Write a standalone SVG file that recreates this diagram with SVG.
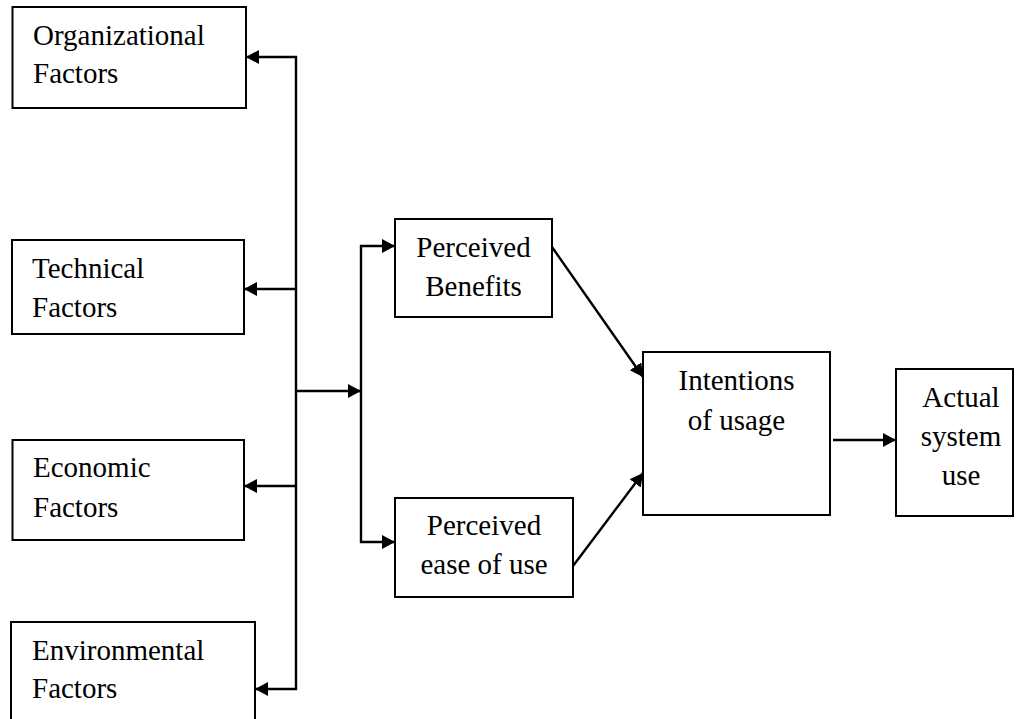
<svg xmlns="http://www.w3.org/2000/svg" width="1016" height="719" viewBox="0 0 1016 719">
<style>
.box{fill:#fff;stroke:#000;stroke-width:2}
.c{text-anchor:middle}
.ln{fill:none;stroke:#000;stroke-width:2.4}
</style>
<defs>
<marker id="ah" markerUnits="userSpaceOnUse" markerWidth="16" markerHeight="16" refX="13" refY="7" orient="auto">
<path d="M0,0 L13,7 L0,14 Z" fill="#000"/>
</marker>
</defs>
<rect width="1016" height="719" fill="#fff"/>
<g font-family="Liberation Serif, serif" font-size="29" fill="#000">
<g id="n-org"><rect class="box" x="12.5" y="7" width="233.5" height="101"/><text x="33" y="45">Organizational</text><text x="33" y="83">Factors</text></g>
<g id="n-tech"><rect class="box" x="12" y="240" width="232" height="94"/><text x="32" y="278">Technical</text><text x="32" y="317">Factors</text></g>
<g id="n-econ"><rect class="box" x="12.5" y="440" width="231.5" height="100"/><text x="33" y="477">Economic</text><text x="33" y="517">Factors</text></g>
<g id="n-env"><rect class="box" x="11" y="622" width="244" height="120"/><text x="32" y="660">Environmental</text><text x="32" y="698">Factors</text></g>
<g id="n-pb"><rect class="box" x="395" y="219" width="157" height="98"/><text class="c" x="473.5" y="257">Perceived</text><text class="c" x="473.5" y="296">Benefits</text></g>
<g id="n-pe"><rect class="box" x="395" y="498" width="178" height="99"/><text class="c" x="484" y="535">Perceived</text><text class="c" x="484" y="574">ease of use</text></g>
<g id="n-int"><rect class="box" x="643" y="352" width="187" height="163"/><text class="c" x="736.5" y="390">Intentions</text><text class="c" x="736.5" y="430">of usage</text></g>
<g id="n-act"><rect class="box" x="896" y="369" width="117" height="147"/><text class="c" x="961" y="407">Actual</text><text class="c" x="961" y="446">system</text><text class="c" x="961" y="485">use</text></g>
</g>
<g id="connectors">
<path class="ln" d="M296,56 V690"/>
<path class="ln" d="M297,57 H246" marker-end="url(#ah)"/>
<path class="ln" d="M297,289 H244" marker-end="url(#ah)"/>
<path class="ln" d="M297,486 H244" marker-end="url(#ah)"/>
<path class="ln" d="M297,689 H255" marker-end="url(#ah)"/>
<path class="ln" d="M296,391 H361" marker-end="url(#ah)"/>
<path class="ln" d="M361,245 V543"/>
<path class="ln" d="M360,246 H395" marker-end="url(#ah)"/>
<path class="ln" d="M360,542 H395" marker-end="url(#ah)"/>
<path class="ln" d="M552,247 L643,377" marker-end="url(#ah)"/>
<path class="ln" d="M573,566 L643,473" marker-end="url(#ah)"/>
<path class="ln" d="M833,440 H896" marker-end="url(#ah)"/>
</g>
</svg>
